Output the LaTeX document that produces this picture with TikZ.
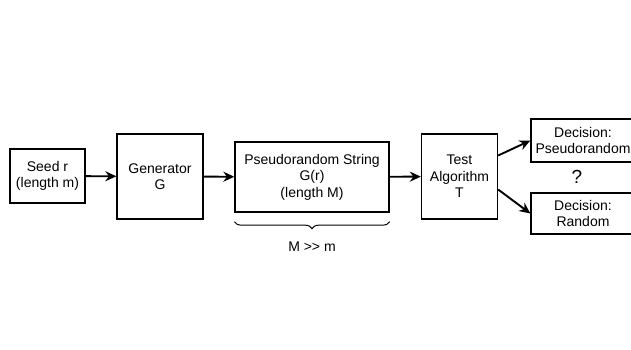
\documentclass[tikz,border=0pt]{standalone}
\usepackage{fontspec}
\setmainfont{Liberation Sans}
\usetikzlibrary{arrows.meta,decorations.pathreplacing,calc}
\begin{document}
\begin{tikzpicture}[x=1pt,y=-1pt,
  txt/.style={font=\fontsize{14}{16.5}\selectfont},
  box/.style={draw,line width=1.3pt,align=center,inner sep=0pt,txt},
  flow/.style={line width=1.9pt,-{Stealth[length=11pt,width=10pt]}}]
\useasboundingbox (0,0) rectangle (631,349);
\fill[white] (0,0) rectangle (631,349);
\begin{scope}
\clip (0,0) rectangle (631,349);
\node[box,minimum width=75pt,minimum height=54pt] (seed) at (47.5,176) {Seed r\\(length m)};
\node[box,minimum width=86pt,minimum height=85pt] (gen) at (160,176.5) {Generator\\G};
\node[box,minimum width=154pt,minimum height=70pt] (str) at (312,177) {Pseudorandom String\\G(r)\\(length M)};
\node[box,minimum width=76pt,minimum height=85pt] (test) at (459.5,176.5) {Test\\Algorithm\\T};
\node[box,minimum width=104pt,minimum height=43pt] (dec1) at (583,140.5) {Decision:\\Pseudorandom};
\node[box,minimum width=104pt,minimum height=41pt] (dec2) at (583,213.5) {Decision:\\Random};
\node[font=\fontsize{19}{22}\selectfont] (q) at (577,177) {?};
\end{scope}
\draw[flow] (seed) -- (gen);
\draw[flow] (gen) -- (str);
\draw[flow] (str) -- (test);
\draw[flow] ($(test.east)+(0,-21)$) -- (dec1.west);
\draw[flow] ($(test.east)+(0,13)$) -- (dec2.west);
\draw[decorate,decoration={brace,mirror,amplitude=7pt},line width=1pt]
  ($(str.south west)+(0,9)$) -- ($(str.south east)+(0,9)$);
\node[txt] (mm) at (312,247) {M {>}{>} m};
\end{tikzpicture}
\end{document}
